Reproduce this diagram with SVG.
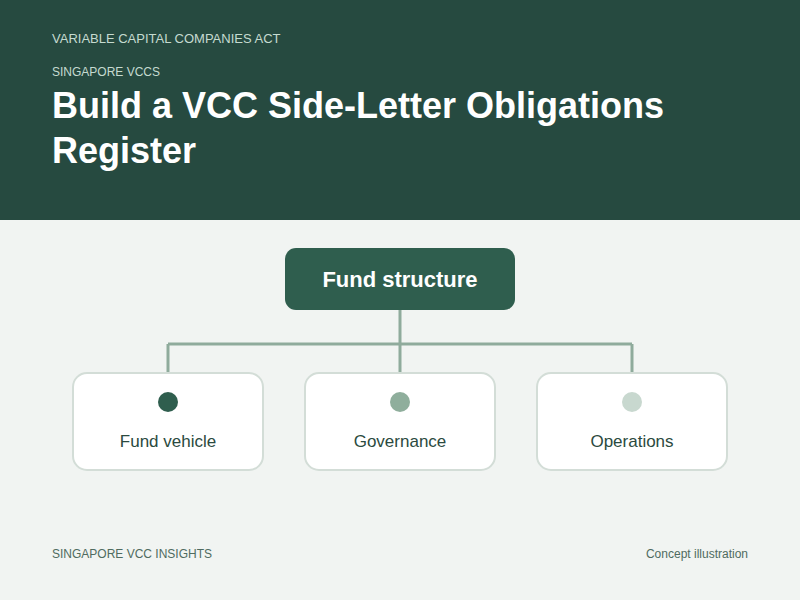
<svg xmlns="http://www.w3.org/2000/svg" width="800" height="600" viewBox="0 0 800 600">
<style>
.sans{font-family:"Liberation Sans",Arial,sans-serif}
.child{fill:#ffffff;stroke:#d3ddd7;stroke-width:2}
.label{font-size:17px;fill:#2b4a40;text-anchor:middle}
.conn{stroke:#8fab9c;stroke-width:3;fill:none}
</style>
<rect x="0" y="0" width="800" height="600" fill="#f1f4f2"/>
<rect x="0" y="0" width="800" height="220" fill="#264a40"/>
<text class="sans" x="52" y="43" font-size="13" fill="#c5dbd0">VARIABLE CAPITAL COMPANIES ACT</text>
<text class="sans" x="52" y="76" font-size="12" fill="#c5dbd0">SINGAPORE VCCS</text>
<text class="sans" x="52" y="118" font-size="36" font-weight="bold" fill="#ffffff">Build a VCC Side-Letter Obligations</text>
<text class="sans" x="52" y="163" font-size="36" font-weight="bold" fill="#ffffff">Register</text>
<g id="connectors">
<path class="conn" d="M400 310 V344 M168 344 H632 M168 344 V372 M400 344 V372 M632 344 V372"/>
</g>
<g id="root">
<rect x="285" y="248" width="230" height="62" rx="11" fill="#2f5e4e"/>
<text class="sans" x="400" y="287" font-size="22" font-weight="bold" fill="#ffffff" text-anchor="middle">Fund structure</text>
</g>
<g id="fund-vehicle">
<rect class="child" x="73" y="373" width="190" height="97" rx="14"/>
<circle cx="168" cy="402" r="10" fill="#2f5e4e"/>
<text class="sans label" x="168" y="447">Fund vehicle</text>
</g>
<g id="governance">
<rect class="child" x="305" y="373" width="190" height="97" rx="14"/>
<circle cx="400" cy="402" r="10" fill="#8fae9c"/>
<text class="sans label" x="400" y="447">Governance</text>
</g>
<g id="operations">
<rect class="child" x="537" y="373" width="190" height="97" rx="14"/>
<circle cx="632" cy="402" r="10" fill="#c8d8cf"/>
<text class="sans label" x="632" y="447">Operations</text>
</g>
<text class="sans" x="52" y="558" font-size="12" fill="#4f6b60">SINGAPORE VCC INSIGHTS</text>
<text class="sans" x="748" y="558" font-size="12" fill="#4f6b60" text-anchor="end">Concept illustration</text>
</svg>
